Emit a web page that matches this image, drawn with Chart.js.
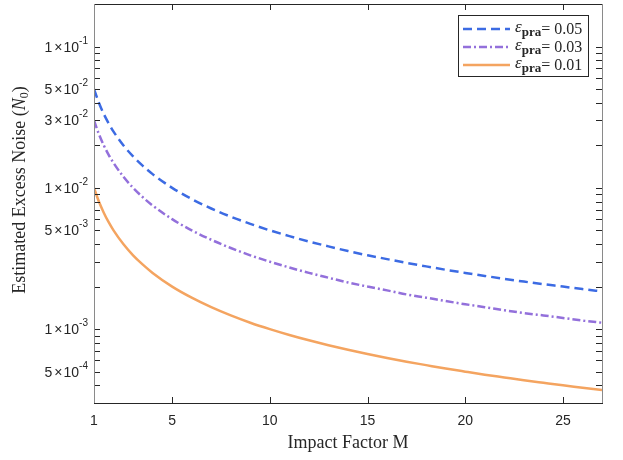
<!DOCTYPE html>
<html>
<head>
<meta charset="utf-8">
<script src="https://cdn.jsdelivr.net/npm/chart.js@4"></script>
<style>
  html, body { margin: 0; padding: 0; background: #fff; }
  #wrap { width: 623px; height: 460px; }
</style>
</head>
<body>
<div id="wrap"><canvas id="chart" width="623" height="460"></canvas></div>
<script>
// Impact factor M (x values)
const impactM = [1, 1.25, 1.5, 1.75, 2, 2.5, 3, 3.5, 4, 5, 6, 7, 8, 9, 10, 11, 12, 13, 14, 15, 16, 17, 18, 19, 20, 21, 22, 23, 24, 25, 26, 27];

// estimated excess noise, one list per epsilon
const noiseEps005 = [0.05, 0.04, 0.0333, 0.0286, 0.025, 0.02, 0.0167, 0.0143, 0.0125, 0.01, 0.00833, 0.00714, 0.00625, 0.00556, 0.005, 0.00455, 0.00417, 0.00385, 0.00357, 0.00333, 0.00313, 0.00294, 0.00278, 0.00263, 0.0025, 0.00238, 0.00227, 0.00217, 0.00208, 0.002, 0.00192, 0.00185];
const noiseEps003 = [0.03, 0.024, 0.02, 0.0171, 0.015, 0.012, 0.01, 0.00857, 0.0075, 0.006, 0.005, 0.00429, 0.00375, 0.00333, 0.003, 0.00273, 0.0025, 0.00231, 0.00214, 0.002, 0.00188, 0.00176, 0.00167, 0.00158, 0.0015, 0.00143, 0.00136, 0.0013, 0.00125, 0.0012, 0.00115, 0.00111];
const noiseEps001 = [0.01, 0.008, 0.00667, 0.00571, 0.005, 0.004, 0.00333, 0.00286, 0.0025, 0.002, 0.00167, 0.00143, 0.00125, 0.00111, 0.001, 0.000909, 0.000833, 0.000769, 0.000714, 0.000667, 0.000625, 0.000588, 0.000556, 0.000526, 0.0005, 0.000476, 0.000455, 0.000435, 0.000417, 0.0004, 0.000385, 0.00037];

const epsLabels = ['0.05', '0.03', '0.01'];

// axis ticks
const xTicks = [1, 5, 10, 15, 20, 25];
const yTicks = [3e-4, 4e-4, 5e-4, 6e-4, 7e-4, 8e-4, 9e-4, 1e-3, 2e-3, 3e-3, 4e-3, 5e-3, 6e-3, 7e-3, 8e-3, 9e-3,
                1e-2, 2e-2, 3e-2, 4e-2, 5e-2, 6e-2, 7e-2, 8e-2, 9e-2, 1e-1, 2e-1];
const yTickLabels = {
    '0.0005': ['5', '-4'], '0.001': ['1', '-3'], '0.005': ['5', '-3'], '0.01': ['1', '-2'],
    '0.03': ['3', '-2'], '0.05': ['5', '-2'], '0.1': ['1', '-1']
};

const AXIS_DARK = '#262626';
const TICK_FONT = '14px "Liberation Sans", Arial, sans-serif';
const SUP_FONT = '10px "Liberation Sans", Arial, sans-serif';
const SERIF = '"Liberation Serif", "Times New Roman", serif';

const colors = ['#3c6be3', '#9370db', '#f4a460'];
const dashes = [[9, 5], [8, 3, 2, 3], []];

function points(ys) {
    return impactM.map((m, i) => ({ x: m, y: ys[i] }));
}

// draws the MATLAB style box, inward ticks, tick labels, axis titles, legend
const decorPlugin = {
    id: 'decor',
    afterDraw(chart) {
        const ctx = chart.ctx;
        const area = chart.chartArea;
        const xs = chart.scales.x;
        const ys = chart.scales.y;
        const L = Math.round(area.left), R = Math.round(area.right);
        const T = Math.round(area.top), B = Math.round(area.bottom);
        ctx.save();

        // ticks
        ctx.strokeStyle = AXIS_DARK;
        ctx.lineWidth = 1;
        ctx.beginPath();
        xTicks.forEach(v => {
            const px = Math.round(xs.getPixelForValue(v)) + 0.5;
            ctx.moveTo(px, B); ctx.lineTo(px, B - 6);
            ctx.moveTo(px, T); ctx.lineTo(px, T + 6);
        });
        yTicks.forEach(v => {
            const py = Math.round(ys.getPixelForValue(v)) + 0.5;
            if (py < T || py > B) return;
            ctx.moveTo(L, py); ctx.lineTo(L + 6, py);
            ctx.moveTo(R, py); ctx.lineTo(R - 6, py);
        });
        ctx.stroke();

        // box
        ctx.beginPath();
        ctx.moveTo(L, T + 0.5); ctx.lineTo(R, T + 0.5);
        ctx.moveTo(L, B + 0.5); ctx.lineTo(R + 1, B + 0.5);
        ctx.stroke();
        ctx.strokeStyle = '#8a8a8a';
        ctx.beginPath();
        ctx.moveTo(L + 0.5, T); ctx.lineTo(L + 0.5, B);
        ctx.moveTo(R + 0.5, T); ctx.lineTo(R + 0.5, B);
        ctx.stroke();

        // x tick labels
        ctx.fillStyle = AXIS_DARK;
        ctx.font = TICK_FONT;
        ctx.textAlign = 'center';
        ctx.textBaseline = 'middle';
        xTicks.forEach(v => {
            ctx.fillText(String(v), xs.getPixelForValue(v), B + 18);
        });

        // y tick labels  m x 10^e
        ctx.textBaseline = 'alphabetic';
        ctx.textAlign = 'left';
        Object.keys(yTickLabels).forEach(k => {
            const [mant, exp] = yTickLabels[k];
            const py = ys.getPixelForValue(Number(k));
            ctx.font = SUP_FONT;
            const expW = ctx.measureText(exp).width;
            ctx.font = TICK_FONT;
            const mW = ctx.measureText(mant).width;
            const xW = ctx.measureText('\u00d7').width;
            const tW = ctx.measureText('10').width;
            const total = mW + 2 + xW + 1 + tW + expW;
            let cx = L - 6 - total;
            ctx.fillText(mant, cx, py + 5); cx += mW + 2;
            ctx.fillText('\u00d7', cx, py + 5); cx += xW + 1;
            ctx.fillText('10', cx, py + 5); cx += tW;
            ctx.font = SUP_FONT;
            ctx.fillText(exp, cx, py - 3);
        });

        // axis titles
        ctx.fillStyle = AXIS_DARK;
        ctx.font = '18px ' + SERIF;
        ctx.textAlign = 'center';
        ctx.textBaseline = 'middle';
        ctx.fillText('Impact Factor M', (L + R) / 2, B + 40);

        ctx.save();
        ctx.translate(20, 190);
        ctx.rotate(-Math.PI / 2);
        const p1 = 'Estimated Excess Noise (';
        const p2 = 'N';
        const p3 = ')';
        ctx.font = '18px ' + SERIF;
        const w1 = ctx.measureText(p1).width;
        const w3 = ctx.measureText(p3).width;
        ctx.font = 'italic 18px ' + SERIF;
        const w2 = ctx.measureText(p2).width;
        ctx.font = '12px ' + SERIF;
        const wSub = ctx.measureText('0').width;
        let cx = -(w1 + w2 + wSub + w3) / 2;
        ctx.textAlign = 'left';
        ctx.font = '18px ' + SERIF;
        ctx.fillText(p1, cx, 0); cx += w1;
        ctx.font = 'italic 18px ' + SERIF;
        ctx.fillText(p2, cx, 0); cx += w2;
        ctx.font = '12px ' + SERIF;
        ctx.fillText('0', cx, 5); cx += wSub;
        ctx.font = '18px ' + SERIF;
        ctx.fillText(p3, cx, 0);
        ctx.restore();

        // legend
        const lx = 458, ly = 15, lw = 130, lh = 61;
        ctx.fillStyle = '#fff';
        ctx.fillRect(lx, ly, lw, lh);
        ctx.strokeStyle = '#262626';
        ctx.lineWidth = 1;
        ctx.strokeRect(lx + 0.5, ly + 0.5, lw, lh);
        const rows = [29, 47, 65];
        chart.data.datasets.forEach((ds, i) => {
            const y = rows[i];
            ctx.strokeStyle = ds.borderColor;
            ctx.lineWidth = 2.5;
            ctx.setLineDash(ds.borderDash || []);
            ctx.beginPath();
            ctx.moveTo(463, y); ctx.lineTo(510, y);
            ctx.stroke();
            ctx.setLineDash([]);
            let tx = 515;
            ctx.fillStyle = AXIS_DARK;
            ctx.textAlign = 'left';
            ctx.textBaseline = 'alphabetic';
            ctx.font = 'italic 17px ' + SERIF;
            ctx.fillText('\u03b5', tx, y + 3);
            tx += ctx.measureText('\u03b5').width;
            ctx.font = 'bold 13px ' + SERIF;
            ctx.fillText('pra', tx, y + 7);
            tx += ctx.measureText('pra').width;
            ctx.font = '16px ' + SERIF;
            ctx.fillText('= ' + epsLabels[i], tx, y + 5);
        });

        ctx.restore();
    }
};

new Chart(document.getElementById('chart'), {
    type: 'line',
    data: {
        datasets: [
            { label: 'eps 0.05', data: points(noiseEps005), borderColor: colors[0], borderDash: dashes[0] },
            { label: 'eps 0.03', data: points(noiseEps003), borderColor: colors[1], borderDash: dashes[1] },
            { label: 'eps 0.01', data: points(noiseEps001), borderColor: colors[2], borderDash: dashes[2] }
        ]
    },
    options: {
        responsive: false,
        animation: false,
        layout: { padding: { top: 4, right: 21, left: 0, bottom: 0 } },
        elements: {
            line: { borderWidth: 2.5, cubicInterpolationMode: 'monotone', fill: false },
            point: { radius: 0 }
        },
        plugins: {
            legend: { display: false },
            tooltip: { enabled: false }
        },
        scales: {
            x: {
                type: 'linear',
                min: 1,
                max: 27,
                grid: { display: false },
                border: { display: false },
                ticks: { display: false },
                afterFit(scale) { scale.height = 57; }
            },
            y: {
                type: 'logarithmic',
                min: 3e-4,
                max: 0.2,
                grid: { display: false },
                border: { display: false },
                ticks: { display: false },
                afterFit(scale) { scale.width = 94; }
            }
        }
    },
    plugins: [decorPlugin]
});
</script>
</body>
</html>
